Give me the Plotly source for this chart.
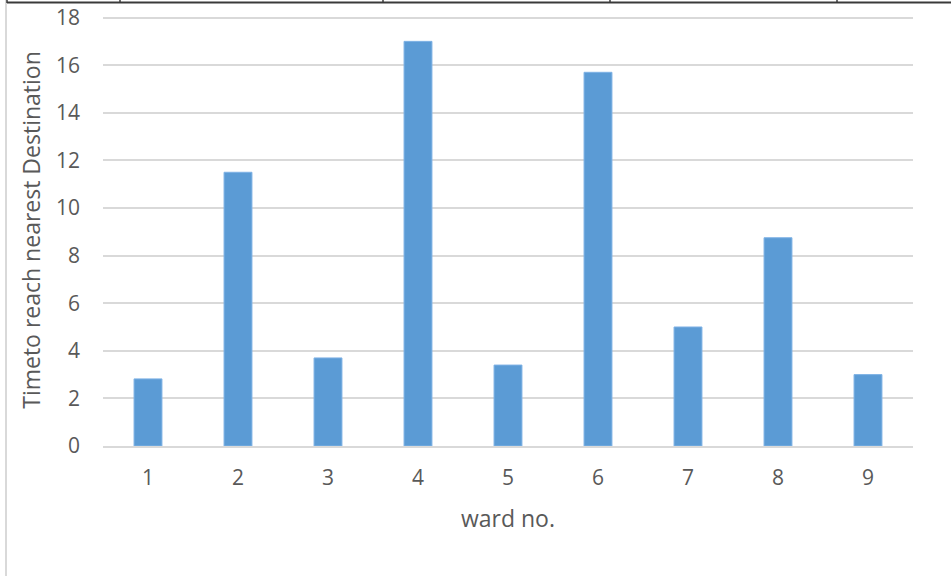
import plotly.graph_objects as go

wards = ["1", "2", "3", "4", "5", "6", "7", "8", "9"]
travel_time = [2.82, 11.5, 3.7, 17.0, 3.4, 15.7, 5.0, 8.75, 3.0]
y_ticks = [0, 2, 4, 6, 8, 10, 12, 14, 16, 18]

W, H = 951, 576
L, R, T, B = 103, 913, 14, 446


def px(x):
    return (x - L) / (R - L)


def py(y):
    return (B - y) / (B - T)


fig = go.Figure(
    go.Bar(
        x=wards,
        y=travel_time,
        marker=dict(color="#5b9bd5", line=dict(color="#7fb2e5", width=1)),
        width=0.31,
    )
)

shapes = []
# frame of the surrounding table cell
shapes.append(dict(type="line", xref="paper", yref="paper",
                   x0=px(6), x1=px(6), y0=py(0), y1=py(576),
                   line=dict(color="#d9d9d9", width=2)))
shapes.append(dict(type="line", xref="paper", yref="paper",
                   x0=px(7), x1=px(951), y0=py(2.5), y1=py(2.5),
                   line=dict(color="#3a3a3a", width=2)))
for xd in [7, 120, 383, 610, 837]:
    shapes.append(dict(type="line", xref="paper", yref="paper",
                       x0=px(xd), x1=px(xd), y0=py(0), y1=py(3),
                       line=dict(color="#3a3a3a", width=1.5)))

fig.update_layout(
    width=W, height=H,
    margin=dict(l=L, r=W - R, t=T, b=H - B, autoexpand=False),
    paper_bgcolor="white", plot_bgcolor="white",
    showlegend=False,
    font=dict(family="Open Sans", color="#595959"),
    shapes=shapes,
    xaxis=dict(
        type="category", automargin=False,
        tickfont=dict(size=21, color="#595959"),
        showgrid=False, ticks="", showline=True,
        linecolor="#d9d9d9", linewidth=1.5,
        ticklabelstandoff=12,
        title=dict(text="ward no.", font=dict(size=23, color="#595959"), standoff=21),
    ),
    yaxis=dict(
        range=[0, 18.15], automargin=False,
        tickvals=y_ticks,
        tickfont=dict(size=21, color="#595959"),
        showgrid=True, gridcolor="#d9d9d9", gridwidth=1.5,
        zeroline=False, ticks="", showline=False,
        ticklabelstandoff=22,
        title=dict(text="Timeto reach nearest Destination",
                   font=dict(size=23, color="#595959"), standoff=8),
    ),
)

fig.write_html("out.html")
